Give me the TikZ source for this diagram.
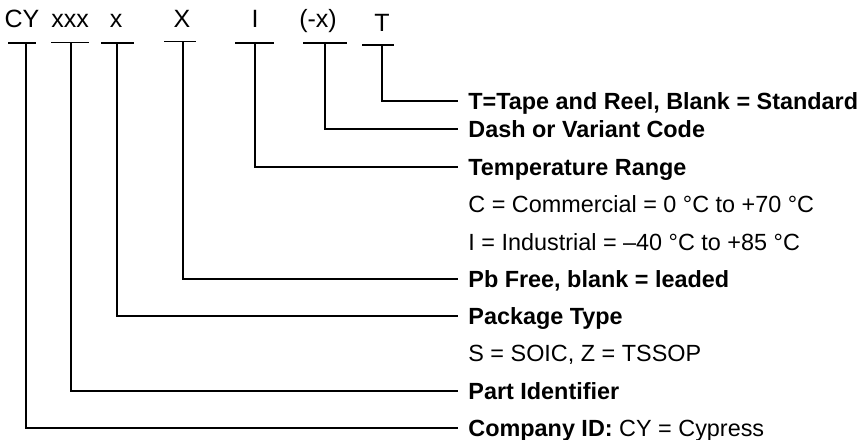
\documentclass[tikz,border=0pt]{standalone}
\usepackage{fontspec}
\setmainfont{Liberation Sans}
\usetikzlibrary{positioning}

\begin{document}
\begin{tikzpicture}[
			x=0.5pt, y=-0.5pt,
			%% Node styles
			code/.style={anchor=base, inner sep=0pt,
				font=\fontsize{12.5}{14}\selectfont},
			desc/.style={anchor=west, inner ysep=0pt, inner xsep=5.5pt,
				text height=8.4pt, text depth=0pt,
				font=\fontsize{11.7}{14}\selectfont\bfseries},
			note/.style={desc, font=\fontsize{11.7}{14}\selectfont},
			%% Line styles
			bar/.style={line width=0.9pt},
			lead/.style={line width=0.9pt, line cap=rect},
			]
			\useasboundingbox (0,0) rectangle (867,439);
			
			%% ── Fields of the part number ────────────────────────────────────
			\node[code] (cy)      at (22,27)    {CY};
			\node[code] (xxx)     at (70,27)    {xxx};
			\node[code] (pkg)     at (116,27)   {x};
			\node[code] (pb)      at (182,27)   {X};
			\node[code] (temp)    at (255,27)   {I};
			\node[code] (dash)    at (318,27)   {(-x)};
			\node[code] (tape)    at (382,32)   {T};
			
			%% Bar under each field, leader starts at its middle
			\coordinate (cyB)   at (26,43);
			\coordinate (xxxB)  at (70.7,42.5);
			\coordinate (pkgB)  at (116.7,43);
			\coordinate (pbB)   at (182.7,41.5);
			\coordinate (tempB) at (255,43);
			\coordinate (dashB) at (325,43);
			\coordinate (tapeB) at (381.7,45);
			
			\draw[bar] (8,43)     -- (36,43);
			\draw[bar] (51,42.5)  -- (89,42.5);
			\draw[bar] (101,43)   -- (134,43);
			\draw[bar] (164,41.5) -- (196,41.5);
			\draw[bar] (235,43)   -- (274,43);
			\draw[bar] (303,43)   -- (347,43);
			\draw[bar] (362,45)   -- (394,45);
			
			%% ── Descriptions (right column) ──────────────────────────────────
			\node[desc] (tapeD)  at (457,101)   {T=Tape and Reel, Blank = Standard};
			\node[desc] (dashD)  at (457,129)   {Dash or Variant Code};
			\node[desc] (tempD)  at (457,167)   {Temperature Range};
			\node[note] (comm)   at (457,204.3) {C = Commercial = 0 °C to +70 °C};
			\node[note] (ind)    at (457,241.6) {I = Industrial = –40 °C to +85 °C};
			\node[desc] (pbD)    at (457,278.9) {Pb Free, blank = leaded};
			\node[desc] (pkgD)   at (457,316.2) {Package Type};
			\node[note] (pkgN)   at (457,353.5) {S = SOIC, Z = TSSOP};
			\node[desc] (xxxD)   at (457,390.8) {Part Identifier};
			\node[note] (cyD)    at (457,428)   {\textbf{Company ID:} CY = Cypress};
			
			%% ── Leaders ──────────────────────────────────────────────────────
			\draw[lead] (tapeB) |- (tapeD);
			\draw[lead] (dashB) |- (dashD);
			\draw[lead] (tempB) |- (tempD);
			\draw[lead] (pbB)   |- (pbD);
			\draw[lead] (pkgB)  |- (pkgD);
			\draw[lead] (xxxB)  |- (xxxD);
			\draw[lead] (cyB)   |- (cyD);
			
		\end{tikzpicture}
\end{document}
